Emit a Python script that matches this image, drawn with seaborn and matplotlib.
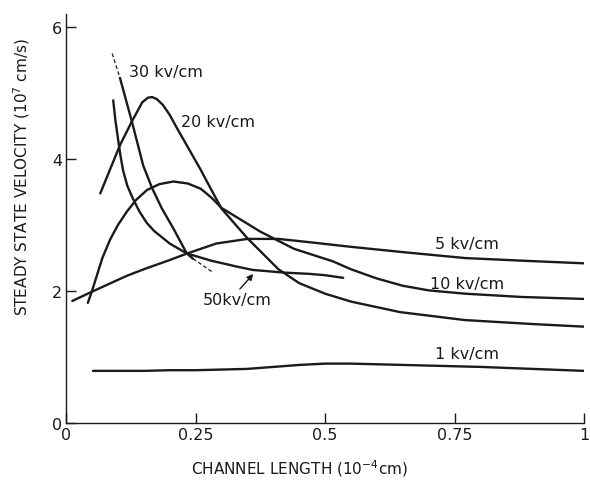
import pandas as pd
import matplotlib
matplotlib.use("Agg")
import matplotlib.pyplot as plt
import seaborn as sns

# values (x in 1e-4 cm, y in 1e7 cm/s)
x_1kv = [0.052, 0.1, 0.15, 0.2, 0.25, 0.3, 0.35, 0.4, 0.45, 0.5, 0.55, 0.6, 0.7, 0.8, 0.9, 1.0]
y_1kv = [0.79, 0.79, 0.79, 0.80, 0.80, 0.81, 0.82, 0.85, 0.88, 0.90, 0.90, 0.89, 0.87, 0.85, 0.82, 0.79]

x_5kv = [0.012, 0.05, 0.117, 0.15, 0.2, 0.234, 0.29, 0.35, 0.41, 0.47, 0.55, 0.65, 0.77, 0.88, 1.0]
y_5kv = [1.85, 1.99, 2.23, 2.33, 2.47, 2.57, 2.72, 2.79, 2.79, 2.74, 2.67, 2.59, 2.50, 2.46, 2.42]

x_10kv = [0.042, 0.05, 0.06, 0.07, 0.085, 0.1, 0.117, 0.135, 0.156, 0.18, 0.207, 0.235, 0.26,
          0.28, 0.30, 0.375, 0.44, 0.515, 0.55, 0.6, 0.65, 0.7, 0.77, 0.88, 1.0]
y_10kv = [1.82, 2.0, 2.25, 2.5, 2.78, 3.0, 3.2, 3.38, 3.53, 3.62, 3.66, 3.63, 3.55,
          3.42, 3.26, 2.9, 2.64, 2.45, 2.33, 2.19, 2.08, 2.01, 1.96, 1.91, 1.88]

x_20kv = [0.066, 0.104, 0.127, 0.147, 0.158, 0.166, 0.175, 0.187, 0.2, 0.214, 0.259, 0.278, 0.30,
          0.35, 0.41, 0.45, 0.5, 0.55, 0.645, 0.77, 0.9, 1.0]
y_20kv = [3.48, 4.21, 4.57, 4.86, 4.93, 4.94, 4.91, 4.82, 4.67, 4.47, 3.85, 3.57, 3.25,
          2.8, 2.33, 2.12, 1.96, 1.84, 1.68, 1.56, 1.5, 1.46]

x_30kv_top = [0.089, 0.104]
y_30kv_top = [5.6, 5.23]
x_30kv = [0.104, 0.127, 0.149, 0.166, 0.185, 0.207, 0.233, 0.245]
y_30kv = [5.23, 4.57, 3.9, 3.56, 3.25, 2.95, 2.57, 2.49]
x_30kv_end = [0.245, 0.26, 0.282]
y_30kv_end = [2.49, 2.41, 2.29]

x_50kv = [0.091, 0.095, 0.1, 0.105, 0.11, 0.118, 0.129, 0.142, 0.156, 0.17, 0.2, 0.233, 0.28,
          0.33, 0.36, 0.42, 0.47, 0.5, 0.535]
y_50kv = [4.89, 4.6, 4.32, 4.05, 3.83, 3.6, 3.4, 3.2, 3.03, 2.91, 2.72, 2.57, 2.46,
          2.37, 2.32, 2.28, 2.26, 2.24, 2.2]

labels = ["1 kv/cm", "5 kv/cm", "10 kv/cm", "20 kv/cm", "30 kv/cm", "50kv/cm"]
label_x = [0.774, 0.774, 0.774, 0.293, 0.193, 0.33]
label_y = [1.05, 2.72, 2.11, 4.57, 5.33, 1.87]

x_ticks = [0, 0.25, 0.5, 0.75, 1]
x_ticklabels = ["0", "0.25", "0.5", "0.75", "1"]
y_ticks = [0, 2, 4, 6]

sns.set_style("ticks")
plt.rcParams["font.family"] = ["DejaVu Sans"]
ink = "#1a1a1a"

fig = plt.figure(figsize=(5.9, 4.81), dpi=100)
ax = fig.add_axes([0.112, 0.1185, 0.878, 0.8505])

solid = [(x_1kv, y_1kv), (x_5kv, y_5kv), (x_10kv, y_10kv), (x_20kv, y_20kv),
         (x_30kv, y_30kv), (x_50kv, y_50kv)]
for xs, ys in solid:
    df = pd.DataFrame({"x": xs, "y": ys})
    sns.lineplot(data=df, x="x", y="y", ax=ax, color=ink, linewidth=1.7, estimator=None)

for xs, ys in [(x_30kv_top, y_30kv_top), (x_30kv_end, y_30kv_end)]:
    df = pd.DataFrame({"x": xs, "y": ys})
    sns.lineplot(data=df, x="x", y="y", ax=ax, color=ink, linewidth=0.9,
                 linestyle=(0, (3, 2)), estimator=None)

for txt, tx, ty in zip(labels, label_x, label_y):
    ax.text(tx, ty, txt, ha="center", va="center", fontsize=11.5, color=ink)

# arrow for the 50 kv/cm curve
ax.annotate("", xy=(0.365, 2.29), xytext=(0.332, 2.0),
            arrowprops=dict(arrowstyle="-|>", color=ink, lw=1.0, mutation_scale=9))

ax.set_xlim(0, 1)
ax.set_ylim(0, 6.2)
ax.set_xticks(x_ticks)
ax.set_xticklabels(x_ticklabels)
ax.set_yticks(y_ticks)
ax.tick_params(direction="in", length=7, width=1, colors=ink, labelsize=11.5, pad=3)
sns.despine(ax=ax)
for s in ["left", "bottom"]:
    ax.spines[s].set_linewidth(1.0)
    ax.spines[s].set_color(ink)

ax.set_xlabel("CHANNEL LENGTH (10$^{-4}$cm)", fontsize=11, color=ink)
ax.set_ylabel("STEADY STATE VELOCITY (10$^7$ cm/s)", fontsize=11, color=ink)
ax.xaxis.set_label_coords(0.45, -0.083)
ax.yaxis.set_label_coords(-0.066, 0.604)

fig.savefig("out.png", dpi=100)
